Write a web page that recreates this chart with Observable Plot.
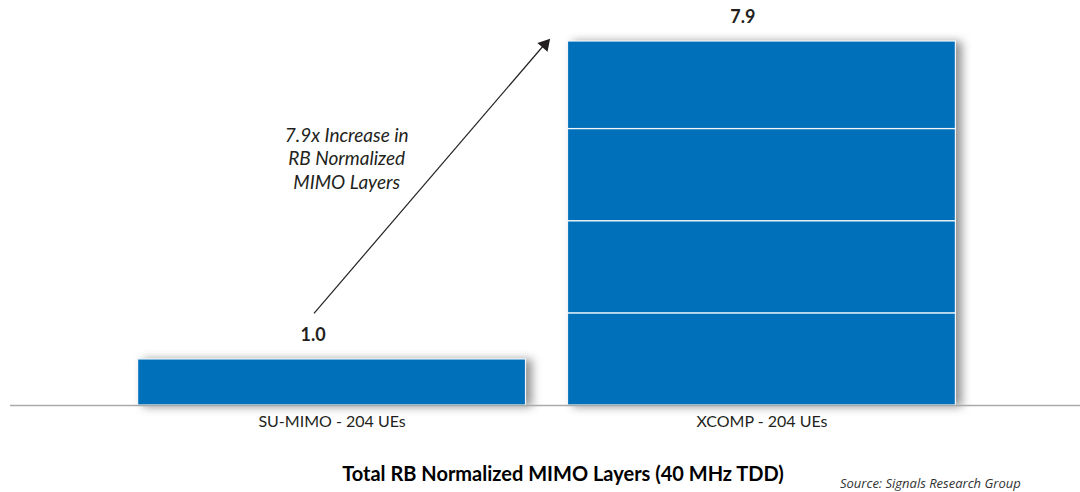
<!DOCTYPE html>
<html>
<head>
<meta charset="utf-8">
<script src="https://cdn.jsdelivr.net/npm/d3@7"></script>
<script src="https://cdn.jsdelivr.net/npm/@observablehq/plot@0.6"></script>
<style>
  html, body { margin: 0; padding: 0; background: #fff; }
  #wrap { position: relative; width: 1080px; height: 492px; overflow: hidden; }
  #chart svg g[aria-label="rect"] { filter: drop-shadow(6px 1px 5px rgba(0,0,0,0.42)); }
  #title { position: absolute; top: 463px; left: 563px; transform: translateX(-50%);
           font: bold 20px "Lato", sans-serif; color: #000; white-space: nowrap; line-height: 1; }
  #caption { position: absolute; top: 477px; left: 840px;
             font: italic 13px "Open Sans", sans-serif; color: #333; white-space: nowrap; line-height: 1; }
</style>
</head>
<body>
<div id="wrap">
  <div id="chart"></div>
  <div id="title"></div>
  <div id="caption"></div>
</div>
<script>
// ---- data ----
const categories = ["SU-MIMO - 204 UEs", "XCOMP - 204 UEs"];
const totals = [1.0, 7.9];
const segmentsSU = [1.0];
const segmentsXCOMP = [2.0, 2.0, 2.0, 1.9];
const annotationLines = ["7.9x Increase in", "RB Normalized", "MIMO Layers"];
const annotationPos = [0.534, 5.37];
const arrowFrom = [0.458, 2.0];
const arrowTo = [1.0, 7.9];
const titleText = "Total RB Normalized MIMO Layers (40 MHz TDD)";
const captionText = "Source: Signals Research Group";

// ---- tables built from the arrays ----
const segmentsByCategory = [segmentsSU, segmentsXCOMP];
const rows = [];
segmentsByCategory.forEach((segs, i) => {
  let acc = 0;
  segs.forEach(v => { rows.push({i, y1: acc, y2: acc + v}); acc += v; });
});
const totalRows = totals.map((v, i) => ({i, v}));
const arrowRow = [{x1: arrowFrom[0], y1: arrowFrom[1], x2: arrowTo[0], y2: arrowTo[1]}];

const blue = "#0070BA";
const font = "Lato, sans-serif";

const chart = Plot.plot({
  width: 1080,
  height: 440,
  marginTop: 41,
  marginBottom: 35,
  marginLeft: 10,
  marginRight: 0,
  style: {background: "transparent", fontFamily: font, overflow: "visible"},
  x: {type: "linear", domain: [-0.248, 2.241]},
  y: {domain: [0, 7.9], axis: null},
  marks: [
    Plot.rect(rows, {
      x1: d => d.i, x2: d => d.i + 1, y1: "y1", y2: "y2",
      insetLeft: 21, insetRight: 21,
      fill: blue, stroke: "#f2f6fa", strokeWidth: 1.2
    }),
    Plot.ruleY([0], {stroke: "#aaaaaa", strokeWidth: 1.6}),
    Plot.axisX([0.5, 1.5], {
      tickFormat: d => categories[Math.floor(d)],
      tickSize: 0, tickPadding: 10, fontSize: 16, fontFamily: font,
      fill: "#231f20", label: null
    }),
    Plot.text(totalRows, {
      x: d => d.i + 0.5, y: "v", text: d => d.v.toFixed(1),
      dy: -24, dx: -19, fontWeight: "bold", fontSize: 18, fontFamily: font, fill: "#231f20"
    }),
    Plot.text([annotationLines.join("\n")], {
      x: () => annotationPos[0], y: () => annotationPos[1], text: d => d,
      fontStyle: "italic", fontSize: 19, lineHeight: 1.22, fontFamily: font, fill: "#231f20"
    }),
    Plot.link(arrowRow, {x1: "x1", y1: "y1", x2: "x2", y2: "y2", stroke: "#231f20", strokeWidth: 1.2}),
    Plot.dot(arrowRow, {x: "x2", y: "y2", symbol: "triangle", r: 5, rotate: 41, fill: "#231f20", stroke: "none", dx: -2, dy: 3})
  ]
});
document.getElementById("chart").appendChild(chart);
document.getElementById("title").textContent = titleText;
document.getElementById("caption").textContent = captionText;
</script>
</body>
</html>
